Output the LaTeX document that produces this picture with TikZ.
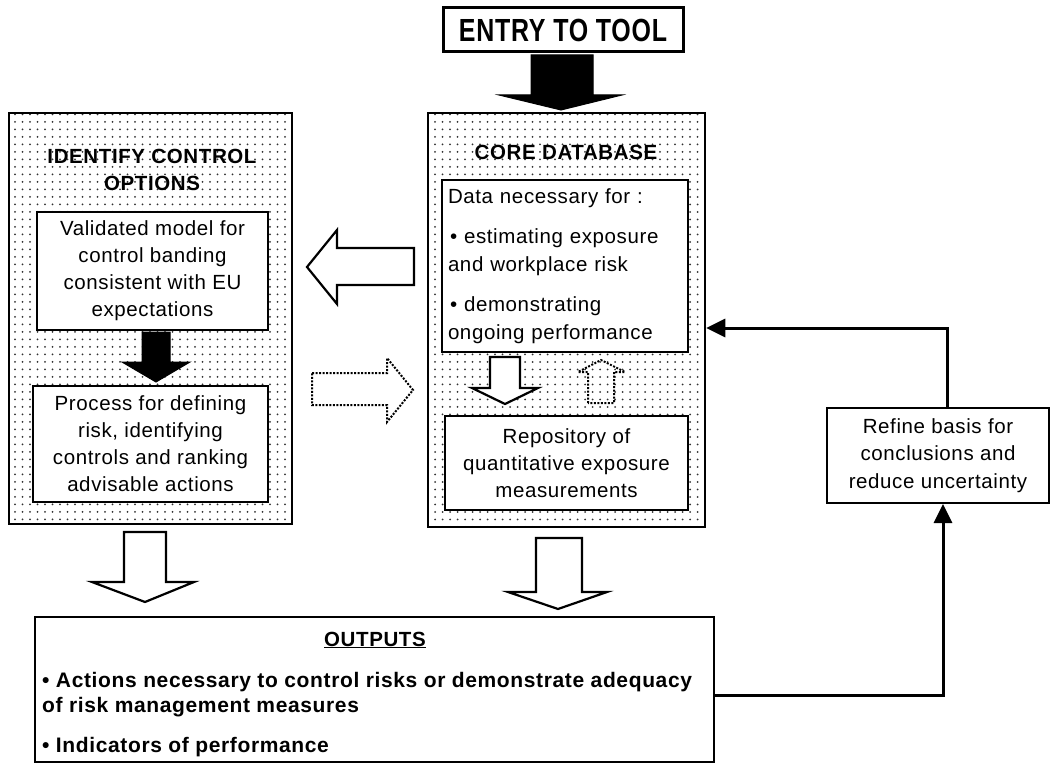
\documentclass[tikz,border=0pt]{standalone}
\usepackage{graphicx}
\usepackage{fontspec}
\setmainfont{Liberation Sans}[LetterSpace=3]
\usetikzlibrary{patterns.meta,arrows.meta}
\begin{document}
\begin{tikzpicture}[x=1pt,y=-1pt,
  every node/.style={font=\fontsize{20.5}{27}\selectfont, inner sep=0pt},
  dotbox/.style={draw, line width=2.5pt, pattern={Dots[distance=7.5pt,radius=1pt]}, pattern color=black!80},
  whitebox/.style={draw, line width=2pt, fill=white, align=center},
  titletext/.style={font=\fontsize{20.5}{27}\selectfont\bfseries, align=center},
  conn/.style={line width=3pt, -{Triangle[length=19pt,width=18pt]}},
  blackarrow/.style={fill=black, draw=black, line width=1pt, line join=miter},
  hollowarrow/.style={fill=white, draw=black, line width=2.2pt, line join=miter},
  dotarrow/.style={draw=black, line width=2pt, dash pattern=on 2pt off 1.5pt, line join=miter},
]
\useasboundingbox (0,0) rectangle (1051,767);
\fill[white] (0,0) rectangle (1051,767);

% entry
\node[draw, line width=3pt, minimum width=240pt, minimum height=44pt] (entry) at (563,30)
  {\fontsize{32}{32}\selectfont\bfseries\scalebox{0.78}[1]{ENTRY TO TOOL}};
\draw[blackarrow] (531,55) -- (593,55) -- (593,95) -- (622,95) -- (561,110) -- (499,95) -- (531,95) -- cycle;

% identify control options
\node[dotbox, minimum width=283pt, minimum height=411pt] (ctrl) at (150.5,318.5) {};
\node[titletext] (ctrltitle) at (152,170) {IDENTIFY CONTROL\\OPTIONS};
\node[whitebox, minimum width=231pt, minimum height=118pt] (model) at (152.5,271)
  {Validated model for\\control banding\\consistent with EU\\expectations};
\draw[blackarrow] (142,332) -- (170,332) -- (170,362) -- (190,362) -- (156,382) -- (122,362) -- (142,362) -- cycle;
\node[whitebox, minimum width=235pt, minimum height=116pt] (process) at (150.5,444)
  {Process for defining\\risk, identifying\\controls and ranking\\advisable actions};

% core database
\node[dotbox, minimum width=277pt, minimum height=414pt] (core) at (566.5,320) {};
\node[titletext] (coretitle) at (566,152) {CORE DATABASE};
\node[draw, line width=2pt, fill=white, minimum width=246pt, minimum height=172pt,
      text width=234pt, align=left, font=\fontsize{20.5}{28}\selectfont] (data) at (565,266)
  {Data necessary for :\\[12pt]
   \hspace*{2pt}• estimating exposure\\and workplace risk\\[12pt]
   \hspace*{2pt}• demonstrating\\ongoing performance};
\draw[hollowarrow] (490,357) -- (520,357) -- (520,388) -- (538,388) -- (505,404) -- (472,388) -- (490,388) -- cycle;
\draw[dotarrow] (588,403) -- (588,372) -- (578,372) -- (601,360) -- (625,372) -- (614,372) -- (614,403) -- cycle;
\node[whitebox, minimum width=243pt, minimum height=94pt] (repo) at (566.5,463)
  {Repository of\\quantitative exposure\\measurements};

% arrows between the two columns
\draw[hollowarrow] (414,248) -- (337,248) -- (337,230) -- (307,267) -- (337,304) -- (337,285) -- (414,285) -- cycle;
\draw[dotarrow] (312,373) -- (387,373) -- (387,358) -- (413,390) -- (387,422) -- (387,405) -- (312,405) -- cycle;

% arrows down to outputs
\draw[hollowarrow] (124,532) -- (166,532) -- (166,582) -- (194,582) -- (145,602) -- (92,582) -- (124,582) -- cycle;
\draw[hollowarrow] (536,538) -- (582,538) -- (582,592) -- (607,592) -- (558,609) -- (508,592) -- (536,592) -- cycle;

% outputs
\node[draw, line width=1.3pt, minimum width=679pt, minimum height=145pt] (outputs) at (374.5,689.5) {};
\node[font=\fontsize{20.5}{27}\selectfont\bfseries] (outtitle) at (375,640) {\underline{OUTPUTS}};
\node[font=\fontsize{21}{25}\selectfont\bfseries, align=left, anchor=north west] (outtext) at (42,672)
  {• Actions necessary to control risks or demonstrate adequacy\\of risk management measures\\[15pt]• Indicators of performance};

% refine
\node[whitebox, minimum width=222pt, minimum height=95pt, font=\fontsize{20.5}{27.5}\selectfont] (refine) at (938,455.5)
  {Refine basis for\\conclusions and\\reduce uncertainty};

% connectors
\coordinate (ytop) at (0,328);
\coordinate (ybot) at (0,695);
\coordinate (xr) at (943,0);
\draw[conn] (outputs.east |- ybot) -| (xr |- refine.south);
\draw[conn] ([xshift=9pt]refine.north) |- (core.east |- ytop);
\end{tikzpicture}
\end{document}
